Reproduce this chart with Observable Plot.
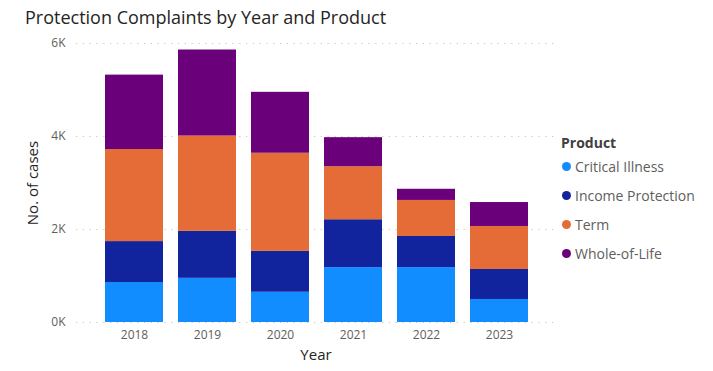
<!DOCTYPE html>
<html><head><meta charset="utf-8">
<script src="https://cdn.jsdelivr.net/npm/d3@7"></script>
<script src="https://cdn.jsdelivr.net/npm/@observablehq/plot@0.6"></script>
<style>
body{margin:0;background:#fff;font-family:"Open Sans",sans-serif;}
#wrap{position:relative;width:713px;height:371px;overflow:hidden;}
#title{position:absolute;left:25px;top:5px;font-size:18px;color:#252423;white-space:nowrap;font-family:"Open Sans",sans-serif;}
#legend{position:absolute;left:561px;top:132px;font-size:14px;color:#605E5C;}
#legend .h{font-weight:bold;color:#404040;height:20px;line-height:22px;}
#legend .it{height:29px;line-height:29px;display:flex;align-items:center;white-space:nowrap;}
#legend .dot{width:9px;height:9px;border-radius:50%;margin-left:1px;margin-right:4px;}
#chart{position:absolute;left:0;top:0;}
</style></head><body>
<div id="wrap">
<div id="chart"></div>
<div id="title">Protection Complaints by Year and Product</div>
<div id="legend"></div>
</div>
<script>
const years = ["2018","2019","2020","2021","2022","2023"];
const products = ["Critical Illness","Income Protection","Term","Whole-of-Life"];
const colors = ["#118DFF","#12239E","#E66C37","#6B007B"];
const criticalIllness   = [860, 950, 650, 1180, 1180, 495];
const incomeProtection  = [880, 1010, 880, 1030, 670, 645];
const term              = [1980, 2050, 2110, 1140, 775, 925];
const wholeOfLife       = [1600, 1850, 1310, 625, 240, 515];
const yTicks = [0, 2000, 4000, 6000];

const series = [criticalIllness, incomeProtection, term, wholeOfLife];
const data = [];
years.forEach((y, i) => products.forEach((p, j) => data.push({year: y, product: p, value: series[j][i]})));

const plot = Plot.plot({
  width: 713, height: 371,
  marginTop: 43, marginBottom: 49, marginLeft: 76, marginRight: 158,
  style: {fontFamily: "Open Sans, sans-serif", fontSize: "12px", color: "#605E5C", background: "transparent"},
  x: {type: "band", domain: years, range: [89, 544], padding: 0.21, label: null},
  y: {domain: [0, 6000], label: null},
  color: {domain: products, range: colors},
  marks: [
    Plot.ruleY(yTicks, {stroke: "#C8C6C4", strokeWidth: 1.2, strokeDasharray: "1.2,5.6"}),
    Plot.barY(data, {x: "year", y: "value", fill: "product", order: products}),
    Plot.axisY(yTicks, {tickSize: 0, tickPadding: 11, tickFormat: d => d/1000 + "K", fontSize: 12, fill: "#605E5C", label: null}),
    Plot.axisX({tickSize: 0, tickPadding: 8, fontSize: 12, fill: "#605E5C", label: null}),
    Plot.text(["Year"], {frameAnchor: "bottom", lineAnchor: "middle", dy: 33, text: d => d, fontSize: 15, fill: "#252423"}),
    Plot.text(["No. of cases"], {frameAnchor: "left", textAnchor: "middle", lineAnchor: "middle", dx: -43, rotate: -90, text: d => d, fontSize: 15, fill: "#252423"})
  ]
});
document.getElementById("chart").appendChild(plot);

const lg = document.getElementById("legend");
lg.innerHTML = '<div class="h">Product</div>' + products.map((p, i) =>
  `<div class="it"><span class="dot" style="background:${colors[i]}"></span>${p}</div>`).join("");
</script>
</body></html>
